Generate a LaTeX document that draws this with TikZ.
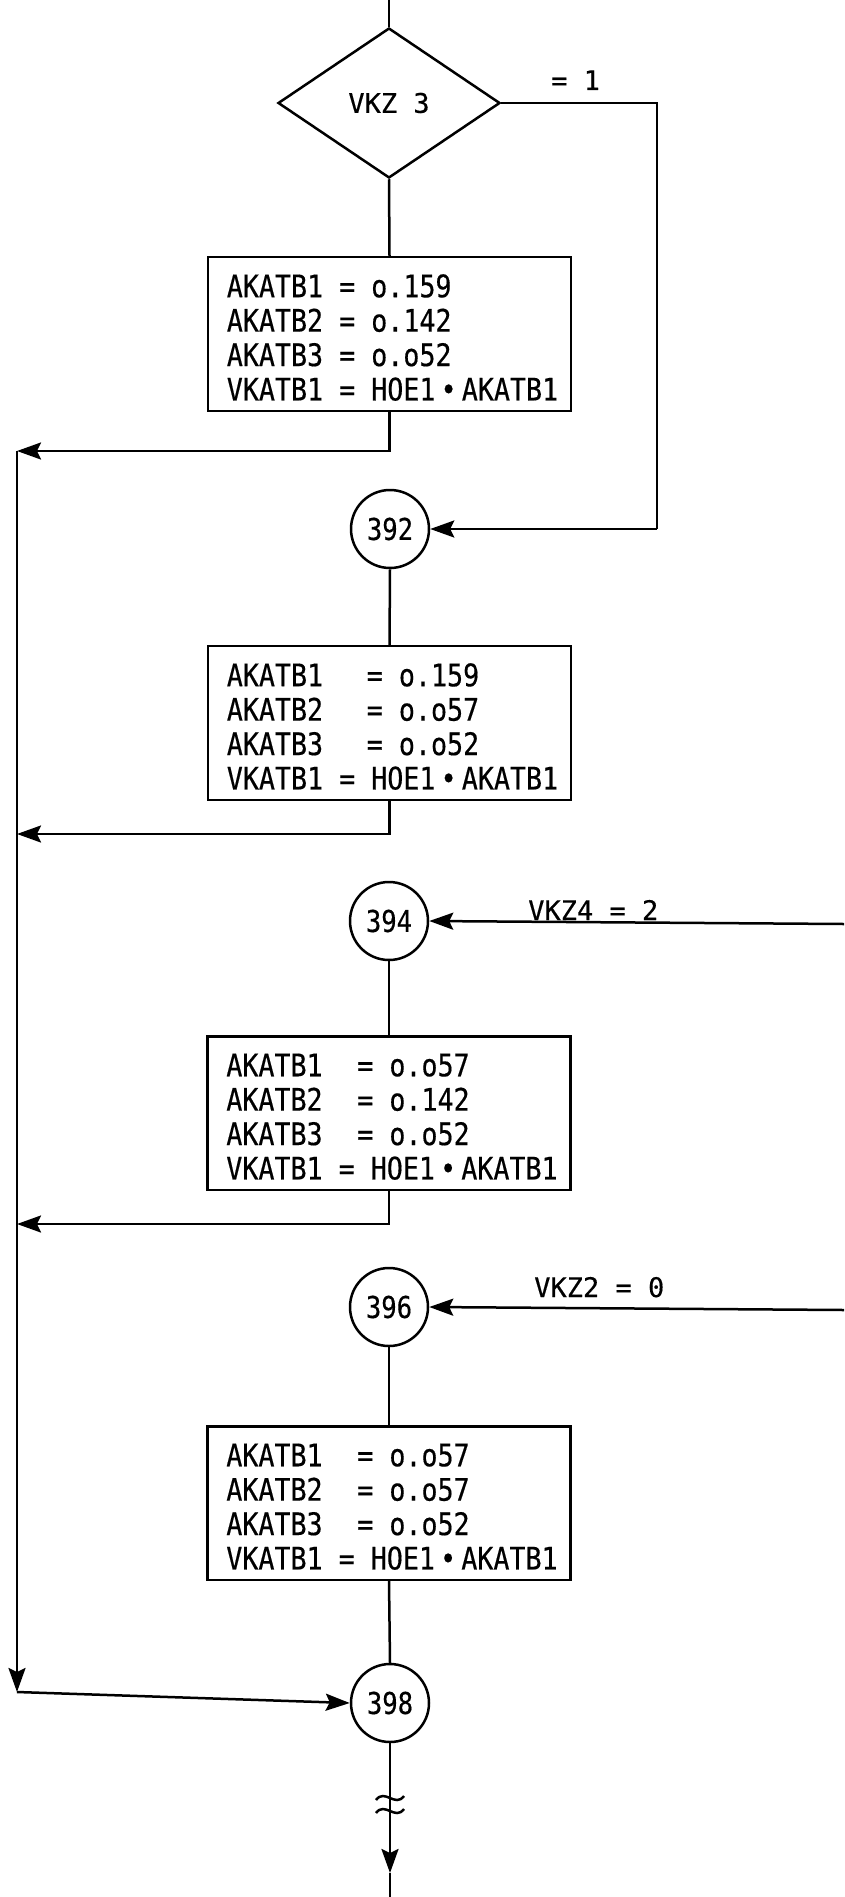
\documentclass[tikz,border=0pt]{standalone}
\usepackage{fontspec}
\usetikzlibrary{shapes.geometric,arrows.meta}
\newfontfamily\twfont[FakeStretch=0.86,FakeBold=0.4]{DejaVu Sans Mono}
\newfontfamily\cfont[FakeStretch=0.853,FakeBold=0.4]{DejaVu Sans Mono}
\newfontfamily\labfont[FakeBold=0.4]{DejaVu Sans Mono}
\newcommand{\bx}[2]{\makebox[#1][l]{#2}}
\newcommand{\topsp}{\rule{0pt}{40pt}}
\begin{document}
\begin{tikzpicture}[x=1pt,y=-1pt,
  line width=2.5pt,
  arr/.style={-{Stealth[length=24pt,width=17pt,inset=4pt]}},
  procbox/.style={draw,rectangle,minimum width=363pt,minimum height=152pt,inner sep=0pt,
    font=\twfont\fontsize{31}{34.4}\selectfont},
  conn/.style={draw,circle,minimum size=78pt,inner sep=0pt,font=\cfont\fontsize{30}{34}\selectfont},
  decis/.style={draw,diamond,minimum width=222pt,minimum height=150pt,inner sep=0pt,
    font=\labfont\fontsize{27}{30}\selectfont},
  lab/.style={anchor=base west,inner sep=0pt,font=\labfont\fontsize{27}{30}\selectfont}]
\useasboundingbox (0,0) rectangle (844,1897);

% nodes
\coordinate (top) at (389,0);
\node[decis] (dia) at (389,103) {VKZ 3};
\node[procbox] (box1) at (389.5,334) {\begin{tabular}{@{\hspace{6pt}}l@{}}
\topsp AKATB1 = o.159\\ AKATB2 = o.142\\ AKATB3 = o.o52\\ VKATB1 = HOE1\,•\,AKATB1\end{tabular}};
\node[conn] (c392) at (390,529) {392};
\node[procbox] (box2) at (389.5,723) {\begin{tabular}{@{\hspace{6pt}}l@{}}
\topsp\bx{140pt}{AKATB1}= o.159\\ \bx{140pt}{AKATB2}= o.o57\\ \bx{140pt}{AKATB3}= o.o52\\ VKATB1 = HOE1\,•\,AKATB1\end{tabular}};
\node[conn] (c394) at (389,921) {394};
\node[procbox] (box3) at (389,1113) {\begin{tabular}{@{\hspace{6pt}}l@{}}
\topsp\bx{131pt}{AKATB1}= o.o57\\ \bx{131pt}{AKATB2}= o.142\\ \bx{131pt}{AKATB3}= o.o52\\ VKATB1 = HOE1\,•\,AKATB1\end{tabular}};
\node[conn] (c396) at (389,1307) {396};
\node[procbox,minimum height=146pt] (box4) at (389,1503) {\begin{tabular}{@{\hspace{6pt}}l@{}}
\topsp\bx{131pt}{AKATB1}= o.o57\\ \bx{131pt}{AKATB2}= o.o57\\ \bx{131pt}{AKATB3}= o.o52\\ VKATB1 = HOE1\,•\,AKATB1\end{tabular}};
\node[conn] (c398) at (390,1703) {398};

% helper coordinates
\coordinate (L1) at (17,451);
\coordinate (L2) at (17,834);
\coordinate (L3) at (17,1224);
\coordinate (Lbot) at (17,1692);
\coordinate (R1) at (657,103);
\coordinate (R2) at (657,529);
\coordinate (E394) at (844,924);
\coordinate (E396) at (844,1310);
\coordinate (arrtip) at (390,1873);
\coordinate (bot) at (390,1897);

% labels
\node[lab] (l1) at (550,90) {= 1};
\node[lab] (l394) at (527,920) {VKZ4 = 2};
\node[lab] (l396) at (533,1297) {VKZ2 = 0};

% connectors
\draw (top) -- (dia.north);
\draw (dia.south) -- (box1.north);
\draw (dia.east) -- (R1) -- (R2);
\draw[arr] (R2) -- (c392.east);
\draw[arr] (box1.south) |- (L1);
\draw (c392.south) -- (box2.north);
\draw[arr] (box2.south) |- (L2);
\draw[arr] (E394) -- (c394.east);
\draw (c394.south) -- (box3.north);
\draw[arr] (box3.south) |- (L3);
\draw[arr] (E396) -- (c396.east);
\draw (c396.south) -- (box4.north);
\draw (box4.south) -- (c398.north);
\draw[arr] (L1) -- (Lbot);
\draw[arr] (Lbot) -- (c398.west);
\draw[arr] (c398.south) -- (arrtip);
\draw (arrtip) -- (bot);

% break marks (tildes)
\draw (376,1800) .. controls (385,1788) and (395,1808) .. (404,1796);
\draw (376,1813) .. controls (385,1801) and (395,1821) .. (404,1809);
\end{tikzpicture}
\end{document}
